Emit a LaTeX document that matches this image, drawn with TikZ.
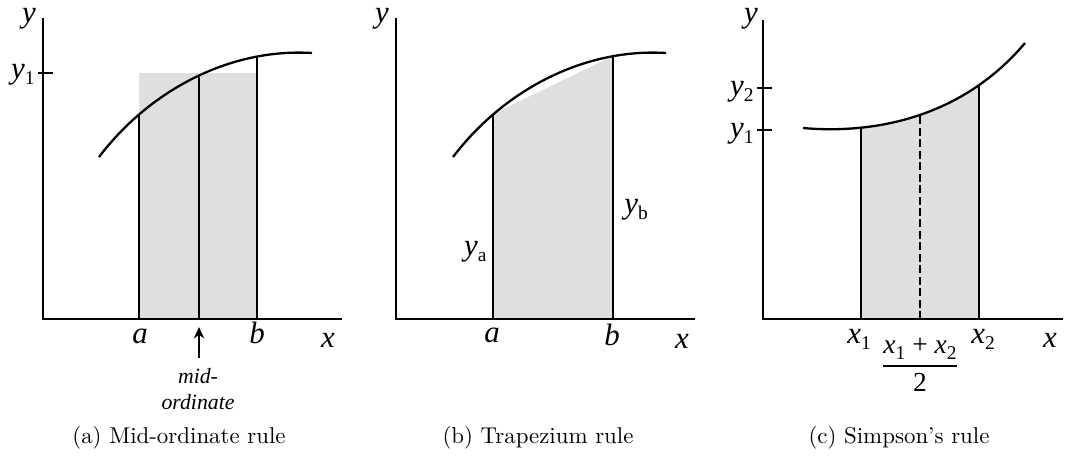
\documentclass[tikz,border=0pt]{standalone}
\usepackage{amsmath}
\usepackage{fontspec}
\newfontfamily\tms{Liberation Serif}
\usetikzlibrary{arrows.meta}

\newcommand\lsub[1]{\raisebox{-0.45ex}{\upshape\fontsize{8.5}{9}\selectfont #1}}
\newcommand\curveA{(99,157) .. controls (150,90) and (230,48) .. (312,53)}
\newcommand\curveB{(453,157) .. controls (504,90) and (584,48) .. (666,53)}
\newcommand\curveC{(803,128) .. controls (870,134) and (960,120) .. (1025,43)}

\begin{document}
\begin{tikzpicture}[x=0.01535cm, y=-0.01535cm,
    line/.style={line width=1pt},
    area/.style={fill=gray!25},
    lab/.style={font=\tms\fontsize{13.5}{15}\selectfont\itshape, inner sep=0pt},
    note/.style={font=\tms\fontsize{9.5}{11}\selectfont\itshape, align=center, inner sep=0pt},
    subcap/.style={inner sep=0pt},
    arr/.style={-{Stealth[length=5pt, width=4.5pt]}, line width=0.8pt}
]
\useasboundingbox (0,0) rectangle (1071,455);

% --- (a) mid-ordinate rule ---
\fill[area] (139,73) rectangle (257,319);
\draw[line] \curveA;
\begin{scope}
  \clip \curveA -- (312,330) -- (99,330) -- cycle;
  \draw[line] (139,319) -- (139,40) (257,319) -- (257,40);
\end{scope}
\draw[line] (199,319) -- (199,77);
\draw[line] (43,18) -- (43,319) -- (342,319);
\draw[line] (38,73) -- (53,73);
\node[lab, anchor=base] (ya) at (29,22) {y};
\node[lab, anchor=base east] (ya1) at (35,78) {y\lsub{1}};
\node[lab, anchor=base] (aa) at (140,343) {a};
\node[lab, anchor=base] (ab) at (257,343) {b};
\node[lab, anchor=base] (ax) at (328,347) {x};
\node[note] (mid) at (198,389) {mid-\\ordinate};
\coordinate (mtail) at (199,358);
\coordinate (mfoot) at (199,327);
\draw[arr] (mtail) -- (mfoot);
\node[subcap, anchor=base] (capa) at (179,443) {(a) Mid-ordinate rule};

% --- (b) trapezium rule ---
\fill[area] (493,319) -- (493,114) -- (613,56) -- (613,319) -- cycle;
\draw[line] \curveB;
\begin{scope}
  \clip \curveB -- (666,330) -- (453,330) -- cycle;
  \draw[line] (493,319) -- (493,40) (613,319) -- (613,40);
\end{scope}
\draw[line] (396,18) -- (396,319) -- (695,319);
\node[lab, anchor=base] (by) at (382,22) {y};
\node[lab, anchor=base east] (bya) at (487,255) {y\lsub{a}};
\node[lab, anchor=base west] (byb) at (624,213) {y\lsub{b}};
\node[lab, anchor=base] (ba) at (492,342) {a};
\node[lab, anchor=base] (bb) at (612,345) {b};
\node[lab, anchor=base] (bx) at (682,348) {x};
\node[subcap, anchor=base] (capb) at (538,443) {(b) Trapezium rule};

% --- (c) Simpson's rule ---
\begin{scope}
  \clip (861,0) rectangle (979,319);
  \fill[area] \curveC -- (1025,319) -- (803,319) -- cycle;
\end{scope}
\draw[line] \curveC;
\begin{scope}
  \clip \curveC -- (1025,330) -- (803,330) -- cycle;
  \draw[line] (861,319) -- (861,20) (979,319) -- (979,20);
  \draw[line, dash pattern=on 3.5pt off 1.5pt] (920,319) -- (920,20);
\end{scope}
\draw[line] (763,20) -- (763,319) -- (1063,319);
\draw[line] (757,88) -- (772,88);
\draw[line] (757,130) -- (772,130);
\node[lab, anchor=base] (cy) at (751,22) {y};
\node[lab, anchor=base east] (cy2) at (754,95) {y\lsub{2}};
\node[lab, anchor=base east] (cy1) at (754,137) {y\lsub{1}};
\node[lab, anchor=base] (cx1) at (859,343) {x\lsub{1}};
\node[lab, anchor=base] (cx2) at (983,343) {x\lsub{2}};
\node[lab, anchor=base] (cx) at (1050,347) {x};
\node[lab, font=\tms\fontsize{12}{14}\selectfont\itshape] (cmid) at (920,365)
  {$\genfrac{}{}{0.8pt}{0}{\mbox{x\lsub{1} {\upshape +} x\lsub{2}}}{\mbox{\upshape 2}}$};
\node[subcap, anchor=base] (capc) at (899,443) {(c) Simpson's rule};
\end{tikzpicture}
\end{document}
